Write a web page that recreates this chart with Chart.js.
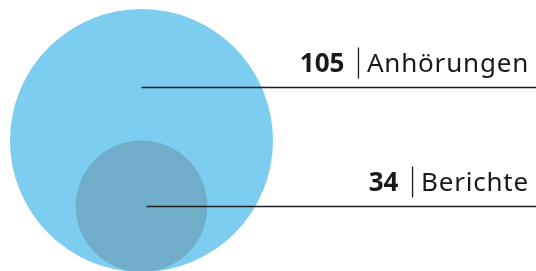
<!DOCTYPE html>
<html>
<head>
<meta charset="utf-8">
<script src="https://cdn.jsdelivr.net/npm/chart.js@4"></script>
<style>
  html, body { margin: 0; padding: 0; background: #fff; overflow: hidden; }
</style>
</head>
<body>
<canvas id="myChart" width="536" height="271"></canvas>
<script>
// Data
const categories = ['Anhörungen', 'Berichte']
const counts = [105, 34]
const colors = ['rgba(124, 205, 240, 1)', 'rgba(112, 173, 201, 1)']

const maxRadius = 131.5
// radius from count (the picture is not strictly area-proportional)
const radiusFor = v => maxRadius * Math.pow(v / Math.max(...counts), 0.614)

// nested bubbles: bottom-aligned, so center height equals radius
const points = counts.map(v => ({ x: 0, y: radiusFor(v), r: radiusFor(v) }))

// label lines + text drawn next to each bubble
const labelPlugin = {
  id: 'labels',
  afterDatasetsDraw (chart) {
    const ctx = chart.ctx
    const right = chart.width
    const textRight = 529
    const lineOffsets = [-53.5, 0]
    chart.data.datasets.forEach((ds, i) => {
      const el = chart.getDatasetMeta(i).data[0]
      const ly = Math.round(el.y + lineOffsets[i]) + 0.5
      ctx.save()
      ctx.strokeStyle = '#1e1e1e'
      ctx.lineWidth = 1.3
      ctx.beginPath()
      ctx.moveTo(el.x + (i ? 5 : 0), ly)
      ctx.lineTo(right, ly)
      ctx.stroke()

      const by = ly - 16
      ctx.fillStyle = '#1a1a1a'
      ctx.textBaseline = 'alphabetic'
      ctx.textAlign = 'right'
      ctx.font = '400 26px "Noto Sans"'
      ctx.letterSpacing = '0.8px'
      ctx.fillText(categories[i], textRight, by)
      const w1 = ctx.measureText(categories[i]).width
      // separator
      const sx = textRight - w1 - 8.5
      ctx.fillRect(sx - 0.6, by - 24, 1.3, 31)
      ctx.letterSpacing = '0px'
      ctx.font = '700 26px "Noto Sans"'
      ctx.fillText(String(counts[i]), sx - 14, by)
      ctx.restore()
    })
  }
}

const ctx = document.getElementById('myChart').getContext('2d')
new Chart(ctx, {
  type: 'bubble',
  data: {
    labels: categories,
    datasets: points.map((p, i) => ({
      label: categories[i],
      data: [p],
      backgroundColor: colors[i],
      borderWidth: 0,
      hoverRadius: 0,
      order: 2 - i
    }))
  },
  options: {
    responsive: false,
    animation: false,
    layout: { padding: 0, autoPadding: false },
    scales: {
      x: { type: 'linear', display: false, min: -141.5, max: 394.5 },
      y: { type: 'linear', display: false, min: 1, max: 272 }
    },
    plugins: {
      legend: { display: false },
      tooltip: { enabled: false }
    }
  },
  plugins: [labelPlugin]
})
</script>
</body>
</html>
